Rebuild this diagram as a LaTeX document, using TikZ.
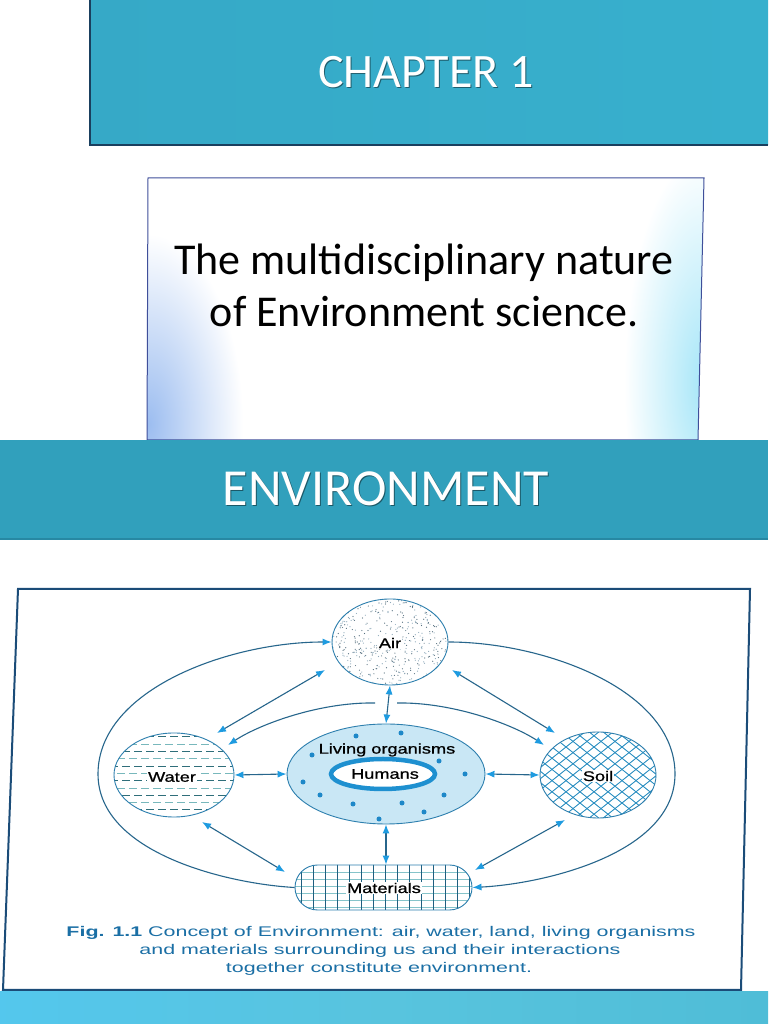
\documentclass[tikz,border=0pt]{standalone}
\usepackage{fontspec}
\usepackage{graphicx}
\setmainfont{Carlito}
\newfontfamily\arialf[FakeBold=0.7]{Liberation Sans}
\newfontfamily\arialc{Liberation Sans}
\usetikzlibrary{shapes.geometric,shapes.misc,arrows.meta,calc}
\definecolor{bannerA}{HTML}{36A9C7}
\definecolor{bannerB}{HTML}{37B0CD}
\definecolor{bannerEdge}{HTML}{1A3F5E}
\definecolor{envA}{HTML}{31A0BC}
\definecolor{envEdge}{HTML}{2788A3}
\definecolor{boxEdge}{HTML}{3F4F9A}
\definecolor{figEdge}{HTML}{1B4C78}
\definecolor{lineblue}{HTML}{27668C}
\definecolor{tipblue}{HTML}{1E9BE0}
\definecolor{shapeEdge}{HTML}{2D7FAE}
\definecolor{livFill}{HTML}{C9E7F5}
\definecolor{dotblue}{HTML}{1E88C8}
\definecolor{humBlue}{HTML}{1E90D0}
\definecolor{capBlue}{HTML}{1B6FA5}
\definecolor{wDark}{HTML}{2F6E7A}
\definecolor{wLight}{HTML}{78B8BC}
\definecolor{soilBlue}{HTML}{2D90C2}
\definecolor{matDark}{HTML}{1F5F80}
\definecolor{matLight}{HTML}{86C4CA}
\definecolor{airDotA}{HTML}{55707F}
\definecolor{airDotB}{HTML}{8FAABB}
\definecolor{glowL}{HTML}{9CBDF0}
\definecolor{glowR}{HTML}{A6E6F8}
\definecolor{barA}{HTML}{8FD6EE}
\definecolor{barB}{HTML}{52C8F2}
\definecolor{barC}{HTML}{58C4DE}
\definecolor{barD}{HTML}{46B6D0}
\pgfdeclarehorizontalshading{bbar}{100bp}{color(0bp)=(barA); color(2bp)=(barA); color(15bp)=(barB); color(16bp)=(barB); color(50bp)=(barC); color(100bp)=(barD)}
\newcommand\fl[1]{\scalebox{1.3}[1]{\arialf\fontsize{14}{16}\selectfont #1}}
\newcommand\capl[1]{\scalebox{1.53}[1]{\arialc\fontsize{14}{16}\selectfont\color{capBlue}#1}}
\tikzset{
  x=1pt, y=1pt,
  conn/.style={draw=lineblue, line width=1.1pt},
  tipone/.style={-{Latex[length=9pt,width=7pt,color=tipblue]}},
  tipboth/.style={{Latex[length=9pt,width=7pt,color=tipblue]}-{Latex[length=9pt,width=7pt,color=tipblue]}},
  blob/.style={ellipse, draw=shapeEdge, line width=0.9pt, inner sep=0pt},
  lbl/.style={inner sep=1pt, fill=white},
  dotc/.style={fill=dotblue},
  headtxt/.style={text=white, font=\fontsize{48}{58}\selectfont},
}
\begin{document}
\begin{tikzpicture}
\useasboundingbox (0,0) rectangle (768,1024);
% background
\fill[white] (0,0) rectangle (768,1024);
% ---- top banner
\shade[left color=bannerA, right color=bannerB] (90,1024) -- (768,1024) -- (768,879) -- (90,879) -- cycle;
\draw[bannerEdge, line width=1.6pt] (90,1024) -- (90,879) -- (768,879);
\node[text=black!45!bannerA, font=\fontsize{48}{58}\selectfont] at (427,950.5) {CHAPTER 1};
\node (chap) [headtxt] at (426,951.5) {CHAPTER 1};
% ---- title box
\fill[white] (148,846) -- (704,846) -- (698,584) -- (147,584) -- cycle;
\begin{scope}
  \clip (148,846) -- (704,846) -- (698,584) -- (147,584) -- cycle;
  \shade[inner color=glowL, outer color=white] (148,600) ellipse [x radius=95, y radius=190];
  \shade[inner color=glowR, outer color=white] (704,640) ellipse [x radius=80, y radius=230];
\end{scope}
\draw[boxEdge, line width=1pt] (148,846) -- (704,846) -- (698,584) -- (147,584) -- cycle;
\node (t1) [anchor=base, font=\fontsize{44}{52}\selectfont] at (424,749) {The multidisciplinary nature};
\node (t2) [anchor=base, font=\fontsize{44}{52}\selectfont] at (424,697) {of Environment science.};
% ---- ENVIRONMENT banner
\fill[envA] (0,584) -- (768,584) -- (768,484) -- (0,484) -- cycle;
\draw[envEdge, line width=2pt] (0,485) -- (768,485);
\node[text=black!45!envA, font=\fontsize{52}{60}\selectfont] at (387,534.5) {ENVIRONMENT};
\node (env) [text=white, font=\fontsize{52}{60}\selectfont] at (386,535.5) {ENVIRONMENT};
% ---- figure box
\draw[figEdge, line width=2pt, fill=white] (18,435) -- (750,435) -- (741,34) -- (3,34) -- cycle;
% ---- bottom bar
\shade[shading=bbar] (0,0) rectangle (768,32);

% ===== diagram =====
% Air stipple
\begin{scope}
  \clip (390,382) ellipse [x radius=58, y radius=43];
  \pgfmathsetseed{42}
  \foreach \k in {1,...,280}{
    \pgfmathsetmacro{\px}{331+118*rnd}
    \pgfmathsetmacro{\py}{338+88*rnd}
    \fill[airDotA] (\px,\py) circle (0.6);
  }
  \foreach \k in {1,...,260}{
    \pgfmathsetmacro{\px}{331+118*rnd}
    \pgfmathsetmacro{\py}{338+88*rnd}
    \fill[airDotB] (\px,\py) circle (0.6);
  }
\end{scope}
\node (air) [blob, minimum width=116, minimum height=86] at (390,382) {};
\node (airlbl) [lbl] at (390,381) {\fl{Air}};

% Water hatch
\begin{scope}
  \clip (174,249) ellipse [x radius=60, y radius=42];
  \foreach \n in {0,2,...,10}
    \draw[wDark, line width=1pt, dash pattern=on 8pt off 4pt] (110,{287-7.3*\n}) -- (240,{287-7.3*\n});
  \foreach \n in {1,3,...,9}
    \draw[wLight, line width=1pt, dash pattern=on 8pt off 4pt, dash phase=5pt] (110,{287-7.3*\n}) -- (240,{287-7.3*\n});
\end{scope}
\node (water) [blob, minimum width=120, minimum height=84] at (174,249) {};
\node (waterlbl) [lbl] at (172,247) {\fl{Water}};

% Soil crosshatch
\begin{scope}
  \clip (598,249) ellipse [x radius=58, y radius=43];
  \foreach \c in {475,489,...,725}{
    \draw[soilBlue, line width=0.9pt] (\c,249) ++(-60,-48) -- ++(120,96);
    \draw[soilBlue, line width=0.9pt] (\c,249) ++(-60,48) -- ++(120,-96);
  }
\end{scope}
\node (soil) [blob, minimum width=116, minimum height=86] at (598,249) {};
\node (soillbl) [lbl] at (598,248) {\fl{Soil}};

% Materials grid
\begin{scope}
  \clip[rounded corners=22.5pt] (295,114) rectangle (472,159);
  \foreach \yy in {117,124,...,157}
    \draw[matLight, line width=0.8pt] (290,\yy) -- (480,\yy);
  \foreach \xx in {301,313,...,470}
    \draw[matDark, line width=1pt] (\xx,110) -- (\xx,165);
\end{scope}
\node (materials) [rounded rectangle, draw=shapeEdge, line width=0.9pt, inner sep=0pt, minimum width=177, minimum height=45] at (383.5,136.5) {};
\node (matlbl) [lbl] at (384,136) {\fl{Materials}};

% Living organisms
\node (living) [blob, fill=livFill, minimum width=198, minimum height=100] at (386,250) {};
\foreach \p in {(356,288),(401,291),(312,269),(439,263),(465,250),(303,242),(320,229),(444,229),(353,220),(402,221),(424,212),(379,205)}
  \fill[dotc] \p circle (2.5);
\node (humans) [ellipse, draw=humBlue, line width=4.5pt, fill=white, minimum width=104, minimum height=30, inner sep=0pt] at (383,250) {};
\node (humlbl) at (385,250) {\fl{Humans}};
\node (livlbl) at (387,274) {\fl{Living organisms}};

% ===== connectors =====
\draw[conn, tipboth] (air.south) -- (living.north);
\draw[conn, tipboth] (water.east) -- (living.west);
\draw[conn, tipboth] (living.east) -- (soil.west);
\draw[conn, tipboth] (living.south) -- (living.south |- materials.north);
\draw[conn, tipboth] ($(air.center)+(-65,-28)$) -- ($(water.center)+(43,42)$);
\draw[conn, tipboth] ($(air.center)+(62,-28)$) -- ($(soil.center)+(-43,42)$);
\draw[conn, tipboth] ($(water.center)+(28,-47)$) -- ($(materials.center)+(-98.5,15.5)$);
\draw[conn, tipboth] ($(soil.center)+(-33,-45)$) -- ($(materials.center)+(91.5,17.5)$);
% outer curves
\draw[conn, tipone] (materials.west) .. controls (230,140) and (98,170) .. (98,250)
   .. controls (98,335) and (230,382) .. (air.west);
\draw[conn, tipone] (air.east) .. controls (543,382) and (675,335) .. (675,250)
   .. controls (675,170) and (543,140) .. (materials.east);
% inner curves
\coordinate (innL) at (375,321);
\coordinate (innR) at (397,321);
\draw[conn, tipone] (innL) .. controls (320,322) and (260,300) .. ($(water.center)+(54,30)$);
\draw[conn, tipone] (innR) .. controls (452,322) and (512,300) .. ($(soil.center)+(-54,30)$);

% ===== caption =====
\node (cap1) [anchor=base] at (381,87) {\capl{\textbf{Fig. 1.1} Concept of Environment: air, water, land, living organisms}};
\node (cap2) [anchor=base] at (380,69.5) {\capl{and materials surrounding us and their interactions}};
\node (cap3) [anchor=base] at (379,51) {\capl{together constitute environment.}};
\end{tikzpicture}
\end{document}
